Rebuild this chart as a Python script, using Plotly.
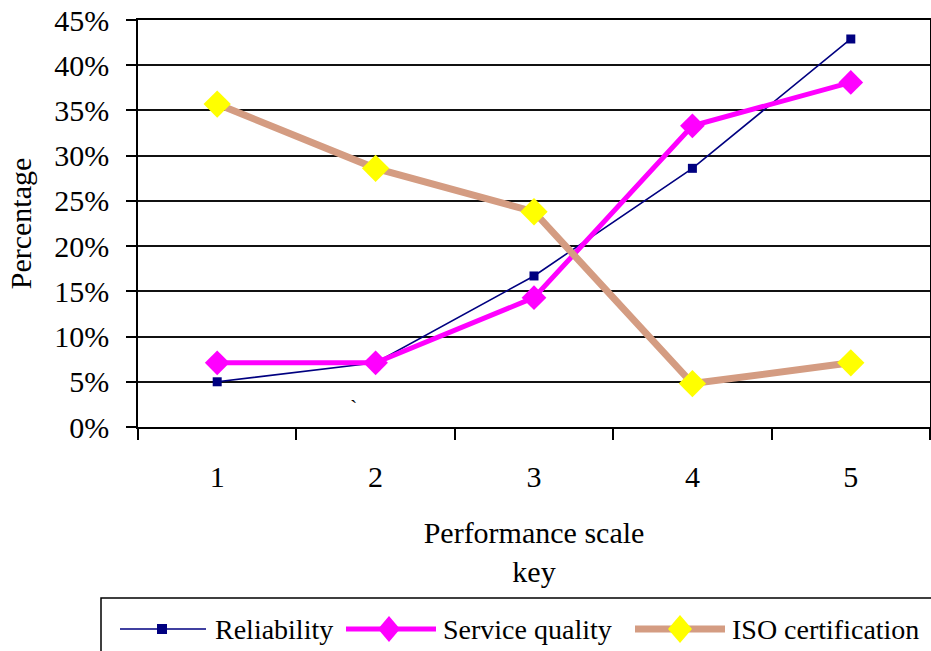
import plotly.graph_objects as go

categories = ["1", "2", "3", "4", "5"]
reliability = [0.05, 0.071, 0.167, 0.286, 0.429]
service_quality = [0.071, 0.071, 0.143, 0.333, 0.381]
iso_certification = [0.357, 0.286, 0.238, 0.048, 0.071]
series_names = ["Reliability", "Service quality", "ISO certification"]

FONT = "Liberation Serif"
FS = 30
NAVY, MAGENTA, ISO_LINE, YELLOW = "#000080", "#FF00FF", "#D49C82", "#FFFF00"

W, H = 931, 651
L, R, T, B = 138, 1, 20, 224
PW, PH = W - L - R, H - T - B


def xp(px):
    return (px - L) / PW


def yp(py):
    return (H - B - py) / PH


fig = go.Figure()
fig.add_trace(go.Scatter(
    x=categories, y=reliability, name=series_names[0], mode="lines+markers",
    line=dict(color=NAVY, width=1.6),
    marker=dict(symbol="square", size=9, color=NAVY),
))
fig.add_trace(go.Scatter(
    x=categories, y=service_quality, name=series_names[1], mode="lines+markers",
    line=dict(color=MAGENTA, width=5),
    marker=dict(symbol="diamond", size=19, color=MAGENTA),
))
fig.add_trace(go.Scatter(
    x=categories, y=iso_certification, name=series_names[2], mode="lines+markers",
    line=dict(color=ISO_LINE, width=7),
    marker=dict(symbol="diamond", size=21, color=YELLOW),
))

fig.update_layout(
    width=W, height=H,
    margin=dict(l=L, r=R, t=T, b=B, autoexpand=False),
    paper_bgcolor="white", plot_bgcolor="white",
    font=dict(family=FONT, size=FS, color="black"),
    showlegend=False,
    xaxis=dict(
        type="category", range=[-0.5, len(categories) - 0.5],
        tickson="boundaries", ticks="outside", ticklen=11,
        tickwidth=1.5, tickcolor="black", showline=True, linecolor="black",
        linewidth=1.5, mirror=True, showgrid=False, ticklabelstandoff=22,
        automargin=False,
        title=dict(text="Performance scale<br>key", standoff=30,
                   font=dict(family=FONT, size=FS)),
        tickfont=dict(family=FONT, size=FS),
    ),
    yaxis=dict(
        range=[0, 0.45], dtick=0.05, tickformat=".0%", ticks="outside",
        ticklen=10, tickwidth=1.5, tickcolor="black", showline=True,
        linecolor="black", linewidth=1.5, mirror=True, showgrid=True,
        gridcolor="#111111", gridwidth=1.8, zeroline=False,
        ticklabelstandoff=11, automargin=False,
        title=dict(text="Percentage", standoff=14,
                   font=dict(family=FONT, size=FS)),
        tickfont=dict(family=FONT, size=FS),
    ),
)

# stray mark in the original
fig.add_annotation(x=0.86, y=0.022, xref="x", yref="y", text="`",
                   showarrow=False, font=dict(family=FONT, size=22))

# legend drawn to match the original's layout
shapes = [dict(type="rect", xref="paper", yref="paper", x0=xp(101), x1=xp(990),
               y0=yp(700), y1=yp(598), line=dict(color="black", width=1.5),
               fillcolor="rgba(0,0,0,0)")]
ly = 629


def diamond(cx, cy, hw, hh, color):
    path = (f"M {xp(cx - hw)} {yp(cy)} L {xp(cx)} {yp(cy - hh)} "
            f"L {xp(cx + hw)} {yp(cy)} L {xp(cx)} {yp(cy + hh)} Z")
    return dict(type="path", xref="paper", yref="paper", path=path,
                fillcolor=color, line=dict(color=color, width=0))


shapes.append(dict(type="line", xref="paper", yref="paper", x0=xp(120), x1=xp(206),
                   y0=yp(ly), y1=yp(ly), line=dict(color=NAVY, width=1.6)))
shapes.append(dict(type="rect", xref="paper", yref="paper", x0=xp(157), x1=xp(167),
                   y0=yp(ly + 5), y1=yp(ly - 5), fillcolor=NAVY,
                   line=dict(color=NAVY, width=0)))
shapes.append(dict(type="line", xref="paper", yref="paper", x0=xp(346), x1=xp(436),
                   y0=yp(ly), y1=yp(ly), line=dict(color=MAGENTA, width=5)))
shapes.append(diamond(389, ly, 11, 13, MAGENTA))
shapes.append(dict(type="line", xref="paper", yref="paper", x0=xp(635), x1=xp(725),
                   y0=yp(ly), y1=yp(ly), line=dict(color=ISO_LINE, width=7)))
shapes.append(diamond(680, ly, 12, 14, YELLOW))
fig.update_layout(shapes=shapes)

for name, tx in zip(series_names, [213, 441, 730]):
    fig.add_annotation(x=xp(tx), y=yp(ly), xref="paper", yref="paper",
                       text=name, showarrow=False, xanchor="left",
                       yanchor="middle", font=dict(family=FONT, size=28))

fig.write_html(
    "out.html",
    config={"displayModeBar": False},
    post_script="document.body.style.margin='0';document.body.style.overflow='hidden';",
)
